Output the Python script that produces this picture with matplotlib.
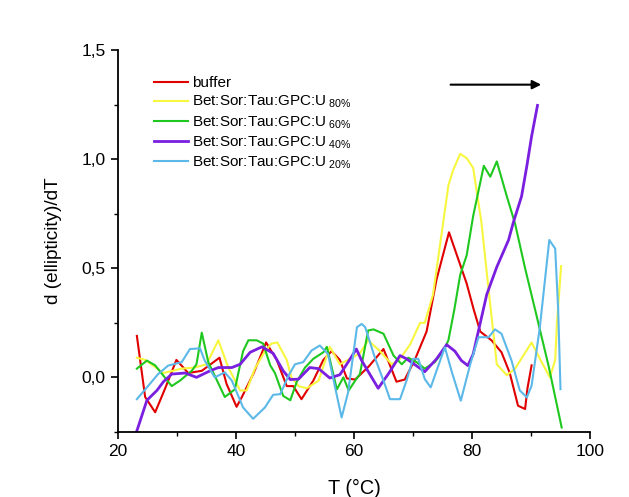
import matplotlib
matplotlib.use("Agg")
import matplotlib.pyplot as plt
from matplotlib.ticker import MultipleLocator, FuncFormatter

plt.rcParams['font.family'] = ['Liberation Sans', 'DejaVu Sans']
plt.rcParams['mathtext.fontset'] = 'custom'
plt.rcParams['mathtext.rm'] = 'Liberation Sans'
plt.rcParams['mathtext.it'] = 'Liberation Sans'

# data
buffer_T = [23.2, 24.6, 26.3, 28, 29.9, 31.9, 34.2, 37.2, 38.4, 40.1, 41, 43, 45.1, 46.9,
            48.6, 49.7, 51.1, 53.1, 54.8, 56.2, 57.6, 58.8, 60.2, 62.5, 65, 67.2, 68.6,
            70.3, 72.3, 74, 76.1, 79.1, 80.3, 81.4, 83.3, 85, 86.4, 87.8, 89, 89.4, 90.1]
buffer_d = [0.19, -0.09, -0.16, -0.05, 0.08, 0.02, 0.03, 0.09, -0.03, -0.135, -0.09, 0.02,
            0.16, 0.08, -0.04, -0.04, -0.10, -0.015, 0.08, 0.12, 0.08, -0.005, -0.01, 0.05,
            0.13, -0.02, -0.01, 0.08, 0.21, 0.45, 0.665, 0.43, 0.31, 0.21, 0.17, 0.115,
            0.02, -0.13, -0.145, -0.05, 0.055]

u80_T = [23.2, 24.6, 27.7, 30.8, 33, 35, 37, 38.7, 40.7, 41.8, 43.2, 44.9, 46, 47, 48.6,
         49.4, 50.6, 52, 54, 55.9, 57.6, 59.3, 61, 62.4, 64.4, 66.4, 67.8, 69.5, 71.2, 72,
         73.4, 76, 76.8, 78, 79.1, 80.2, 81.6, 82.9, 84.2, 85.9, 87.3, 90.1, 91.8, 93.2,
         94.1, 94.4, 95.1]
u80_d = [0.09, 0.08, 0.02, 0.04, 0.045, 0.06, 0.17, 0.045, -0.06, -0.06, 0.04, 0.12, 0.155,
         0.16, 0.08, 0.0, -0.04, -0.05, -0.015, 0.14, 0.06, 0.085, 0.11, 0.17, 0.12, 0.06,
         0.085, 0.15, 0.25, 0.25, 0.38, 0.88, 0.95, 1.025, 1.005, 0.96, 0.71, 0.38, 0.06,
         0.01, 0.04, 0.16, 0.07, 0.0, 0.08, 0.25, 0.51]

u60_T = [23.2, 24.9, 26.3, 29.1, 30.5, 32.5, 33.3, 34.2, 35.3, 38.1, 39.8, 41.2, 42.1,
         43.5, 44.6, 45.8, 46.6, 48, 49.2, 50.3, 51.7, 53.1, 54.8, 55.4, 57.1, 58.2, 59.1,
         60.2, 61, 62.4, 63.3, 65, 66.7, 68.1, 69.2, 70.6, 72, 73.7, 75.1, 76, 77, 78,
         79.1, 80.2, 82, 83.1, 84.2, 85.9, 87.3, 89, 90.7, 93, 95.2]
u60_d = [0.04, 0.077, 0.055, -0.04, -0.015, 0.03, 0.06, 0.205, 0.07, -0.09, -0.055, 0.12,
         0.17, 0.17, 0.155, 0.055, 0.02, -0.085, -0.105, -0.02, 0.045, 0.085, 0.115, 0.14,
         -0.055, 0.0, -0.06, -0.015, 0.015, 0.215, 0.22, 0.2, 0.1, 0.06, 0.09, 0.07, 0.04,
         0.07, 0.12, 0.17, 0.31, 0.47, 0.56, 0.74, 0.97, 0.92, 0.99, 0.83, 0.705, 0.5,
         0.31, 0.05, -0.23]

u40_T = [23.2, 24.9, 26.6, 27.7, 29.1, 31.4, 33.3, 35.6, 37, 39.3, 40.7, 42.4, 44.4, 46.3,
         48, 49.2, 50.6, 52.5, 54, 55.9, 57.6, 59, 60.4, 61.3, 64.1, 65.8, 67.8, 68.9, 72,
         74, 75.7, 77.1, 78.2, 79.3, 80.2, 82.5, 84.2, 86.2, 87, 88.4, 89.3, 90.1, 91.1]
u40_d = [-0.245, -0.105, -0.06, -0.02, 0.015, 0.02, 0.0, 0.03, 0.045, 0.045, 0.06, 0.115,
         0.14, 0.11, 0.03, -0.01, -0.008, 0.045, 0.04, -0.003, 0.012, 0.07, 0.13, 0.077,
         -0.05, 0.015, 0.1, 0.085, 0.026, 0.085, 0.15, 0.12, 0.077, 0.054, 0.107, 0.38,
         0.506, 0.63, 0.71, 0.83, 0.97, 1.105, 1.247]

u20_T = [23.2, 25.4, 26.8, 28.5, 30.8, 32.2, 33.9, 34.7, 36.4, 38.1, 39.3, 41.2, 42.9,
         44.9, 46.3, 47.5, 48.9, 50, 51.4, 52.8, 54.2, 55.6, 56.8, 57.9, 59, 60.5, 61.3,
         61.9, 63.6, 65, 66.1, 67.8, 68.9, 70, 70.9, 72, 73, 74.3, 75.4, 76.6, 78.1, 79.7,
         81.1, 82.8, 83.9, 85, 86.7, 88.1, 89.3, 90.1, 91.5, 93.1, 94.1, 94.6, 95]
u20_d = [-0.1, -0.03, 0.015, 0.054, 0.07, 0.13, 0.133, 0.077, 0.0, 0.023, -0.015, -0.138,
         -0.19, -0.138, -0.08, -0.077, 0.008, 0.06, 0.07, 0.123, 0.146, 0.107, -0.046,
         -0.184, -0.069, 0.23, 0.245, 0.23, 0.085, -0.015, -0.1, -0.1, -0.015, 0.085,
         0.085, -0.008, -0.046, 0.054, 0.138, 0.023, -0.107, 0.06, 0.184, 0.184, 0.22, 0.2,
         0.077, -0.06, -0.092, -0.038, 0.23, 0.63, 0.59, 0.315, -0.054]

arrow_start = (75.9, 1.342)
arrow_end = (92.2, 1.342)

fig = plt.figure(figsize=(6.29, 4.97), dpi=100)
ax = fig.add_axes([0.1876, 0.131, 0.7504, 0.768])

ax.plot(buffer_T, buffer_d, color='#e00000', lw=1.5, label='buffer')
ax.plot(u80_T, u80_d, color='#f7f740', lw=1.5, label='Bet:Sor:Tau:GPC:U$_{\\ 80\\%}$')
ax.plot(u60_T, u60_d, color='#1ec81e', lw=1.5, label='Bet:Sor:Tau:GPC:U$_{\\ 60\\%}$')
ax.plot(u40_T, u40_d, color='#7a1ee0', lw=2.0, label='Bet:Sor:Tau:GPC:U$_{\\ 40\\%}$')
ax.plot(u20_T, u20_d, color='#5bb8e8', lw=1.5, label='Bet:Sor:Tau:GPC:U$_{\\ 20\\%}$')

ax.annotate('', xy=arrow_end, xytext=arrow_start,
            arrowprops=dict(arrowstyle='-|>', color='black', lw=1.5, mutation_scale=13))

ax.set_xlim(20, 100)
ax.set_ylim(-0.25, 1.5)
ax.xaxis.set_major_locator(MultipleLocator(20))
ax.xaxis.set_minor_locator(MultipleLocator(10))
ax.yaxis.set_major_locator(MultipleLocator(0.5))
ax.yaxis.set_minor_locator(MultipleLocator(0.25))
ax.yaxis.set_major_formatter(FuncFormatter(lambda v, p: ('%.1f' % v).replace('.', ',')))
ax.tick_params(which='major', direction='out', length=5, width=1.2, labelsize=12.5, pad=4)
ax.tick_params(which='minor', direction='out', length=3, width=1.0)

for s in ['top', 'right']:
    ax.spines[s].set_visible(False)
for s in ['left', 'bottom']:
    ax.spines[s].set_linewidth(1.3)

ax.set_xlabel('T (°C)', fontsize=14.3, labelpad=14)
ax.set_ylabel('d (ellipticity)/dT', fontsize=13.7, labelpad=14)

ax.legend(loc='upper left', bbox_to_anchor=(0.06, 0.952), frameon=False, fontsize=11,
          handlelength=2.2, handletextpad=0.3, labelspacing=0.25, borderpad=0)

fig.savefig('out.png', dpi=100)
